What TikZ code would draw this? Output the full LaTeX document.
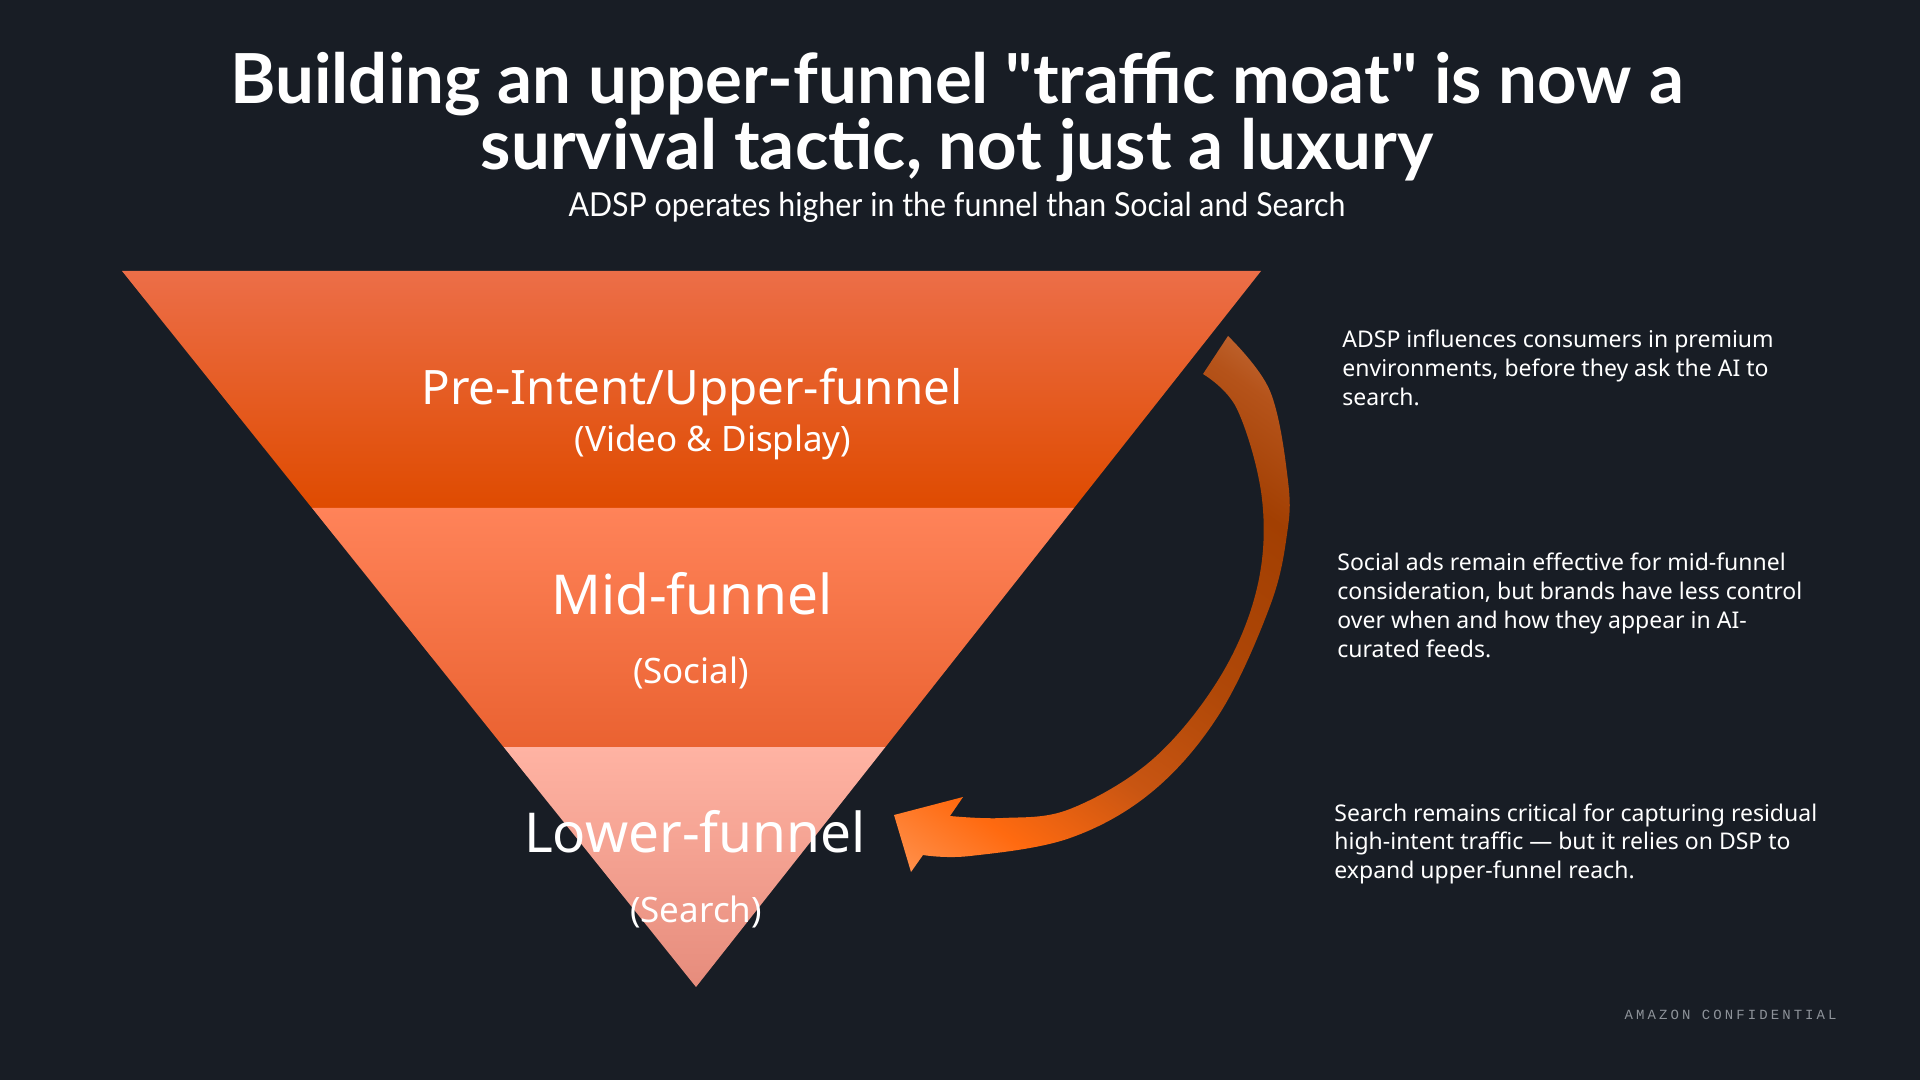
\documentclass[tikz,border=0pt]{standalone}
\usepackage{fontspec}
\setmainfont{Noto Sans}
\newfontfamily\titlefont{Lato}
\newfontfamily\conffont{Liberation Mono}[LetterSpace=22]
\usepackage{graphicx}
\usepackage{xcolor}
\usepackage{tikz}
\usetikzlibrary{calc}

\definecolor{bgc}{HTML}{181D25}
\definecolor{upTop}{HTML}{EC6E48}
\definecolor{upMid}{HTML}{F45500}
\definecolor{upBot}{HTML}{DF4B00}
\definecolor{midTop}{HTML}{FF8359}
\definecolor{midMid}{HTML}{FF7142}
\definecolor{midBot}{HTML}{EA6231}
\definecolor{lowTop}{HTML}{FFB3A3}
\definecolor{lowMid}{HTML}{FBA190}
\definecolor{lowBot}{HTML}{E68C7C}
\definecolor{arrLight}{HTML}{FF9C5E}
\definecolor{arrBright}{HTML}{FF6A10}
\definecolor{arrMid}{HTML}{C85512}
\definecolor{arrDeep}{HTML}{B04808}
\definecolor{arrDark}{HTML}{A23F02}
\definecolor{arrRust}{HTML}{B5531A}
\definecolor{arrTan}{HTML}{CF8055}
\definecolor{confgray}{HTML}{8E939A}

\pgfdeclarehorizontalshading{arrowfade}{100bp}{color(0bp)=(arrLight); color(13bp)=(arrLight); color(25bp)=(arrBright); color(37bp)=(arrMid); color(50bp)=(arrDeep); color(68bp)=(arrDark); color(78bp)=(arrRust); color(89bp)=(arrTan); color(100bp)=(arrTan)}

\begin{document}
\begin{tikzpicture}[
  x=0.5pt, y=-0.5pt,
  title/.style={text=white, inner sep=0pt, font=\titlefont\bfseries\fontsize{34.5}{36}\selectfont},
  subtitle/.style={text=white, inner sep=0pt, font=\titlefont\fontsize{16.5}{18}\selectfont},
  band/.style={draw=none},
  bigtag/.style={text=white, inner sep=0pt, font=\fontsize{27.5}{30}\selectfont},
  smalltag/.style={text=white, inner sep=0pt, font=\fontsize{17.5}{20}\selectfont},
  note/.style={text=white, inner sep=0pt, align=left, anchor=north west, font=\fontsize{11.5}{14.35}\selectfont},
]

% Background
\fill[bgc] (0,0) rectangle (1920,1080);

% Title
\node[title, anchor=base] (title1) at (957,104) {Building an upper-funnel "traffic moat" is now a};
\node[title, anchor=base] (title2) at (957,170) {survival tactic, not just a luxury};
\node[subtitle, anchor=base] (subtitle) at (957,217) {\scalebox{0.92}[1]{ADSP operates higher in the funnel than Social and Search}};

% Funnel corners
\coordinate (ftl) at (122,271);
\coordinate (ftr) at (1261,271);
\coordinate (apex) at (696,987);
\coordinate (l1) at ($(ftl)!0.331!(apex)$);
\coordinate (r1) at ($(ftr)!0.331!(apex)$);
\coordinate (l2) at ($(ftl)!0.665!(apex)$);
\coordinate (r2) at ($(ftr)!0.665!(apex)$);

% Funnel bands
\shade[band, top color=upTop, middle color=upMid, bottom color=upBot] (ftl) -- (ftr) -- (r1) -- (l1) -- cycle;
\shade[band, top color=midTop, middle color=midMid, bottom color=midBot] (l1) -- (r1) -- (r2) -- (l2) -- cycle;
\shade[band, top color=lowTop, middle color=lowMid, bottom color=lowBot] (l2) -- (r2) -- (apex) -- cycle;

% Funnel labels
\node[smalltag, font=\fontsize{23.75}{26}\selectfont, anchor=base] (upper) at (692,404) {Pre-Intent/Upper-funnel};
\node[smalltag, anchor=base] (uppersub) at (713,451) {(Video \& Display)};
\node[bigtag, anchor=base] (mid) at (692,614) {Mid-funnel};
\node[smalltag, anchor=base] (midsub) at (691,683) {(Social)};
\node[bigtag, anchor=base] (lower) at (695,852) {Lower-funnel};
\node[smalltag, anchor=base] (lowersub) at (696,922) {(Search)};

% Curved arrow from upper to lower funnel
\shade[shading=arrowfade, shading angle=55]
  plot[smooth, tension=0.6] coordinates {(1228,336) (1270,391) (1288,481) (1287,534) (1270,606) (1220,713) (1153,791) (1070,838) (970,856) (923,855)}
  -- (911,872) -- (894,815) -- (963,797)
  -- plot[smooth, tension=0.6] coordinates {(950,816) (1003,818) (1070,809) (1153,759) (1220,677) (1257,588) (1262,499) (1237,409) (1203,374)}
  -- cycle;

% Notes
\node[note] (note1) at (1342,330) {ADSP influences consumers in premium\\environments, before they ask the AI to\\search.};
\node[note] (note2) at (1337,553) {Social ads remain effective for mid-funnel\\consideration, but brands have less control\\over when and how they appear in AI-\\curated feeds.};
\node[note] (note3) at (1334,803) {Search remains critical for capturing residual\\high-intent traffic --- but it relies on DSP to\\expand upper-funnel reach.};

% Footer
\node[text=confgray, inner sep=0pt, anchor=east, font=\conffont\fontsize{7}{8}\selectfont] (conf) at (1837,1015) {AMAZON CONFIDENTIAL};

\end{tikzpicture}
\end{document}
